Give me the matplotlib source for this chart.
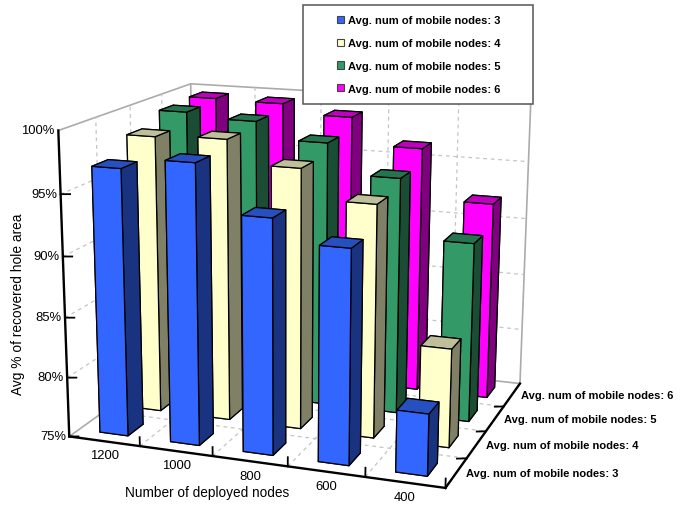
import matplotlib
matplotlib.use('Agg')
import matplotlib.pyplot as plt
from matplotlib.patches import Patch, Rectangle

plt.rcParams['font.family'] = ['Liberation Sans', 'DejaVu Sans']

deployed_nodes = ['1200', '1000', '800', '600', '400']
mobile_labels = ['Avg. num of mobile nodes: 3', 'Avg. num of mobile nodes: 4',
                 'Avg. num of mobile nodes: 5', 'Avg. num of mobile nodes: 6']
mobile_3 = [97.0, 97.9, 94.1, 92.3, 80.0]
mobile_4 = [98.4, 98.6, 96.7, 94.3, 83.2]
mobile_5 = [99.4, 99.0, 97.6, 95.1, 90.2]
mobile_6 = [99.6, 99.5, 98.7, 96.4, 92.1]
series = [mobile_3, mobile_4, mobile_5, mobile_6]
pct_ticks = [75, 80, 85, 90, 95, 100]

# front, side and top shades for each series
front = ['#3366FF', '#FFFFCC', '#339966', '#FF00FF']
side = ['#1A3380', '#808066', '#1A4D33', '#800080']
top = ['#2650C0', '#BFBF99', '#267350', '#BF00BF']

W, H = 690, 506
fig = plt.figure(figsize=(W / 100, H / 100), dpi=100, facecolor='white')
ax = fig.add_axes([0, 0, 1, 1], projection='3d', computed_zorder=False)
ax.set_axis_off()
ax.view_init(14.8928, -70.4046, -0.183)
ax.set_box_aspect((1, 0.8129, 0.7983))
ax.set_proj_type('persp', focal_length=0.5495)

# place the square plot panel so one projected unit spans a fixed pixel count
scale, shift_x, shift_y = 3013.11, 305.55, 267.02
vl = ax.viewLim
left = shift_x + scale * vl.x0
bottom = H - (shift_y - scale * vl.y0)
ax.set_position([left / W, bottom / H, scale * vl.width / W, scale * vl.height / H])

n_x, n_y = len(deployed_nodes), len(series)
z0, z1 = pct_ticks[0], pct_ticks[-1]
wall = dict(color='#ABABAB', lw=1.2, zorder=1, solid_capstyle='round')
grid = dict(color='#C4C4C4', lw=0.9, ls=(0, (3, 3)), zorder=1)
axis = dict(color='black', lw=1.7, zorder=500, solid_capstyle='projecting')
tick = dict(color='black', lw=1.3, zorder=500)

# walls and floor outline
ax.plot([0, 0], [0, n_y], [z1, z1], **wall)
ax.plot([0, n_x], [n_y, n_y], [z1, z1], **wall)
ax.plot([n_x, n_x], [n_y, n_y], [z0, z1], **wall)
ax.plot([0, 0], [n_y, n_y], [z0, z1], **wall)
ax.plot([0, 0], [0, n_y], [z0, z0], **wall)
ax.plot([0, n_x], [n_y, n_y], [z0, z0], **wall)

# dashed grid on both walls and the floor
for z in pct_ticks[1:-1]:
    ax.plot([0, 0], [0, n_y], [z, z], **grid)
    ax.plot([0, n_x], [n_y, n_y], [z, z], **grid)
for i in range(1, n_x):
    ax.plot([i, i], [n_y, n_y], [z0, z1], **grid)
    ax.plot([i, i], [0, n_y], [z0, z0], **grid)
for j in range(1, n_y):
    ax.plot([0, 0], [j, j], [z0, z1], **grid)
    ax.plot([0, n_x], [j, j], [z0, z0], **grid)

# bars, painted from the far rows to the near ones
order = 2
for j in range(n_y - 1, -1, -1):
    colors = [top[j], top[j], front[j], front[j], side[j], side[j]]
    for i in range(n_x):
        ax.bar3d(i + 0.3, j + 0.275, z0, 0.4, 0.45, series[j][i] - z0,
                 color=colors, shade=False, edgecolor='black', linewidth=0.9,
                 zorder=order)
        order += 1

# black axis lines and ticks
ax.plot([0, 0], [0, 0], [z0, z1], **axis)
ax.plot([0, n_x], [0, 0], [z0, z0], **axis)
ax.plot([n_x, n_x], [0, n_y], [z0, z0], **axis)
for z in pct_ticks[:-1]:
    ax.plot([0, 0.11], [0, 0.04], [z, z], **tick)
for i in range(1, n_x + 1):
    ax.plot([i, i], [0, 0], [z0, z0 + 0.75], **tick)
for j in range(1, n_y):
    ax.plot([n_x, n_x - 0.11], [j, j - 0.05], [z0, z0], **tick)

# tick labels anchored to the axes
for z in pct_ticks:
    ax.text(-0.05, 0, z, f'{z}%', ha='right', va='center', fontsize=9.4, zorder=600)
for i, name in enumerate(deployed_nodes):
    ax.text(i + 0.5, 0, z0 - 1.2, name, ha='center', va='center', fontsize=9.4, zorder=600)
for j, name in enumerate(mobile_labels):
    ax.text(n_x + 0.12, j + 0.5, z0 + 0.1, name, ha='left', va='center',
            fontsize=8, fontweight='bold', zorder=600)

# the data limits span exactly the chart box
ax.set_xlim(0, n_x, view_margin=0)
ax.set_ylim(0, n_y, view_margin=0)
ax.set_zlim(z0, z1, view_margin=0)

fig.text(207 / W, 1 - 493 / H, 'Number of deployed nodes', ha='center', va='center', fontsize=9.8)
fig.text(18 / W, 1 - 304 / H, 'Avg % of recovered hole area', ha='center', va='center',
         rotation=90, fontsize=9.9)

# legend panel
fig.add_artist(Rectangle((303 / W, 1 - 104.5 / H), 229.5 / W, 98.5 / H, transform=fig.transFigure,
                         facecolor='white', edgecolor='#555555', lw=1.1, zorder=5))
handles = [Patch(facecolor=c, edgecolor='#444444', lw=0.8) for c in front]
leg = fig.legend(handles, mobile_labels, loc='center left', bbox_to_anchor=(337 / W, 1 - 55.5 / H),
                 frameon=False, borderpad=0, borderaxespad=0, fontsize=8,
                 handlelength=0.62, handleheight=0.62, handletextpad=0.35, labelspacing=1.15,
                 prop=dict(weight='bold', size=8))
leg.set_zorder(6)

fig.savefig('out.png', dpi=100)
